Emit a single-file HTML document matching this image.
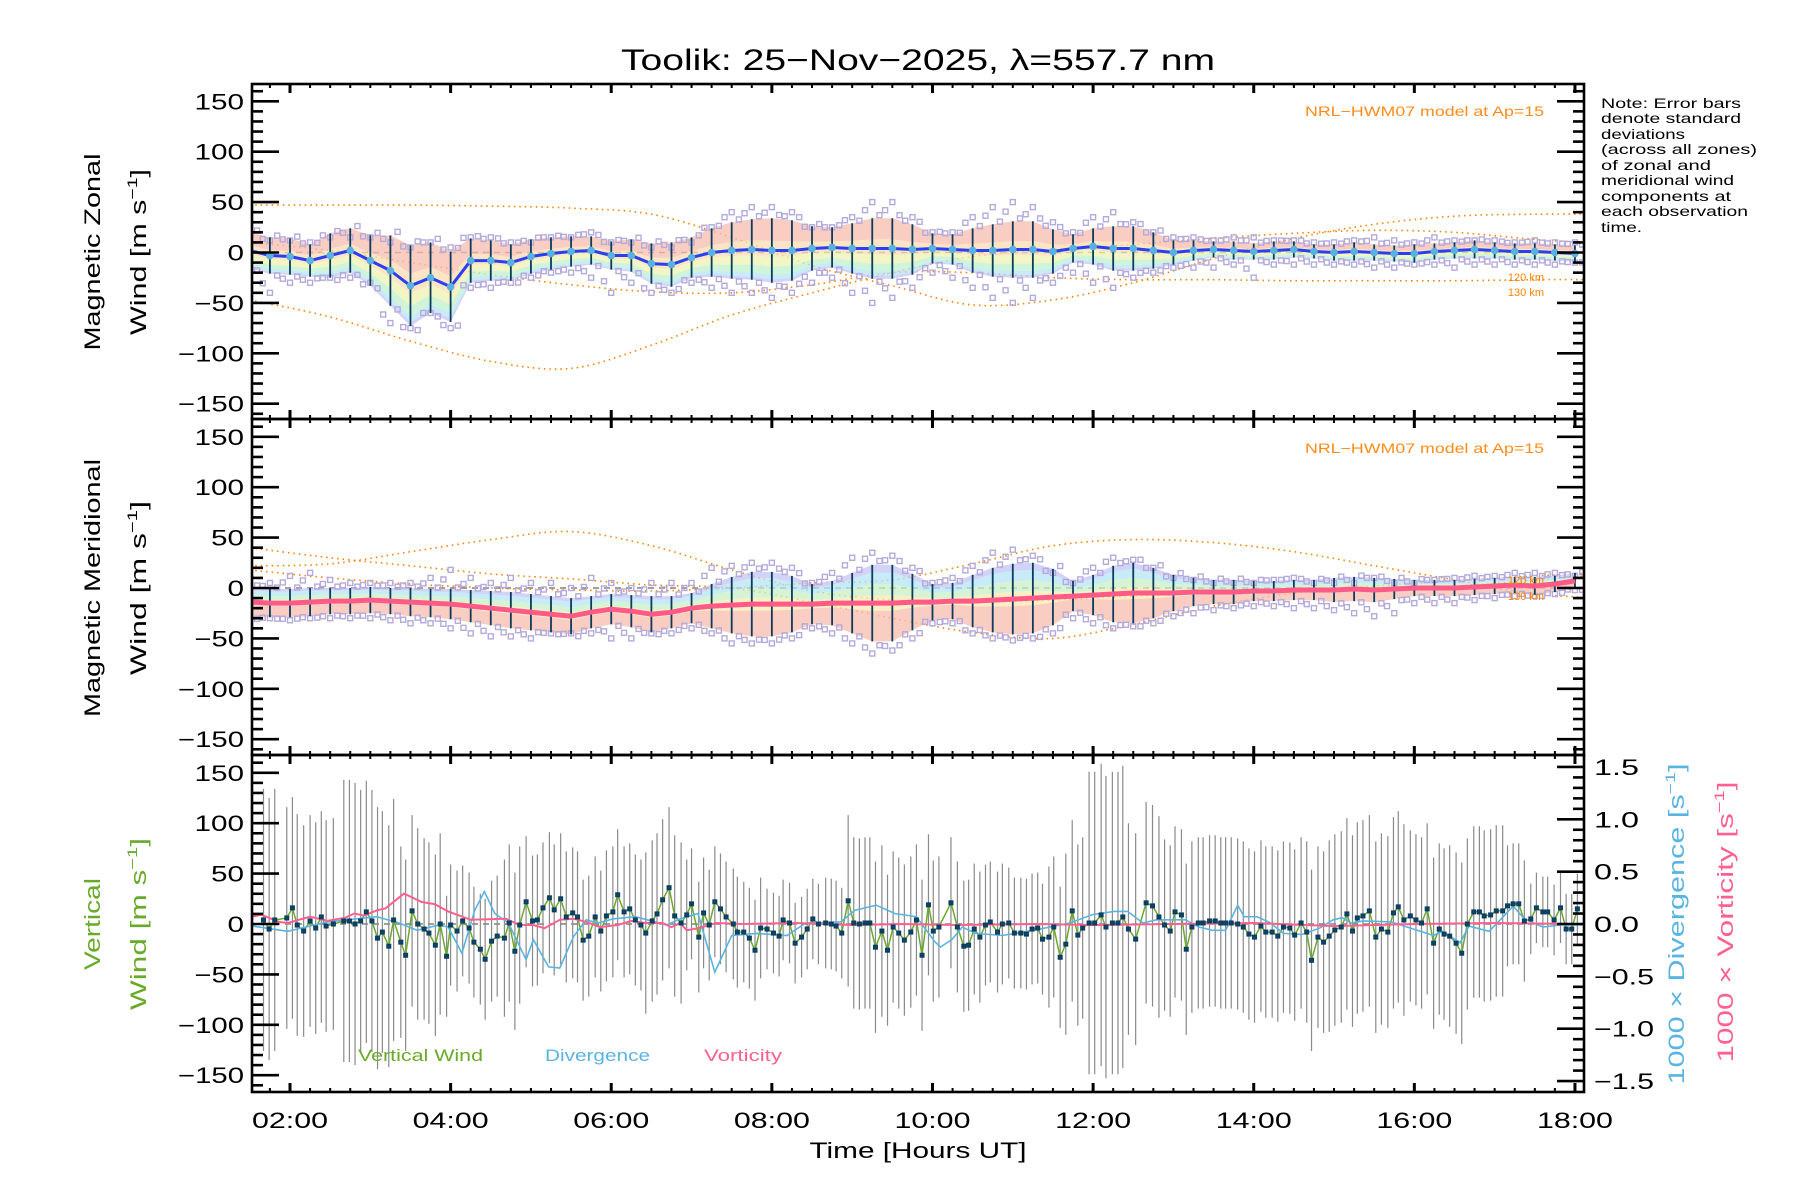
<!DOCTYPE html>
<html><head><meta charset="utf-8"><title>Toolik 557.7 nm winds</title>
<style>
html,body{margin:0;padding:0;background:#fff;}
svg{display:block;font-family:"Liberation Sans",sans-serif;}
</style></head>
<body>
<svg id="chart" width="1800" height="1200" viewBox="0 0 1800 1200" xmlns="http://www.w3.org/2000/svg">
<defs>
<clipPath id="clip1"><rect x="252" y="84" width="1332" height="335"/></clipPath>
<clipPath id="clip2"><rect x="252" y="419" width="1332" height="336"/></clipPath>
<clipPath id="clip3"><rect x="252" y="755" width="1332" height="337"/></clipPath>
</defs>
<rect x="0" y="0" width="1800" height="1200" fill="#fff"/>
<text x="918" y="70" font-size="30" text-anchor="middle" textLength="594" lengthAdjust="spacingAndGlyphs">Toolik: 25−Nov−2025, λ=557.7 nm</text>
<g id="p1" clip-path="url(#clip1)"></g>
<g id="p2" clip-path="url(#clip2)"></g>
<g id="p3" clip-path="url(#clip3)"></g>
<g id="axes"></g>
<g id="labels">
<text x="1544" y="116" font-size="14" fill="#ff8c1a" text-anchor="end" textLength="239" lengthAdjust="spacingAndGlyphs">NRL−HWM07 model at Ap=15</text>
<text x="1544" y="453" font-size="14" fill="#ff8c1a" text-anchor="end" textLength="239" lengthAdjust="spacingAndGlyphs">NRL−HWM07 model at Ap=15</text>
<text x="1544" y="281" font-size="11" fill="#ff8000" text-anchor="end">120 km</text>
<text x="1544" y="296" font-size="11" fill="#ff8000" text-anchor="end">130 km</text>
<text x="1544" y="584" font-size="11" fill="#ff8000" text-anchor="end">120 km</text>
<text x="1544" y="600" font-size="11" fill="#ff8000" text-anchor="end">130 km</text>
<g font-size="14">
<text x="1601" y="108" textLength="140" lengthAdjust="spacingAndGlyphs">Note: Error bars</text>
<text x="1601" y="123" textLength="140" lengthAdjust="spacingAndGlyphs">denote standard</text>
<text x="1601" y="139" textLength="84" lengthAdjust="spacingAndGlyphs">deviations</text>
<text x="1601" y="154" textLength="156" lengthAdjust="spacingAndGlyphs">(across all zones)</text>
<text x="1601" y="170" textLength="110" lengthAdjust="spacingAndGlyphs">of zonal and</text>
<text x="1601" y="185" textLength="133" lengthAdjust="spacingAndGlyphs">meridional wind</text>
<text x="1601" y="201" textLength="130" lengthAdjust="spacingAndGlyphs">components at</text>
<text x="1601" y="216" textLength="147" lengthAdjust="spacingAndGlyphs">each observation</text>
<text x="1601" y="232" textLength="41" lengthAdjust="spacingAndGlyphs">time.</text>
</g>
<text transform="translate(100,252) rotate(-90)" font-size="22" text-anchor="middle" textLength="197" lengthAdjust="spacingAndGlyphs">Magnetic Zonal</text>
<text transform="translate(146,252) rotate(-90)" font-size="22" text-anchor="middle" textLength="166" lengthAdjust="spacingAndGlyphs">Wind [m s<tspan font-size="14" dy="-9">−1</tspan><tspan dy="9">]</tspan></text>
<text transform="translate(100,588) rotate(-90)" font-size="22" text-anchor="middle" textLength="258" lengthAdjust="spacingAndGlyphs">Magnetic Meridional</text>
<text transform="translate(146,588) rotate(-90)" font-size="22" text-anchor="middle" textLength="174" lengthAdjust="spacingAndGlyphs">Wind [m s<tspan font-size="14" dy="-9">−1</tspan><tspan dy="9">]</tspan></text>
<text transform="translate(100,924) rotate(-90)" font-size="22" fill="#6aaa2a" text-anchor="middle" textLength="92" lengthAdjust="spacingAndGlyphs">Vertical</text>
<text transform="translate(146,924) rotate(-90)" font-size="22" fill="#6aaa2a" text-anchor="middle" textLength="172" lengthAdjust="spacingAndGlyphs">Wind [m s<tspan font-size="14" dy="-9">−1</tspan><tspan dy="9">]</tspan></text>
<text transform="translate(1684,924) rotate(-90)" font-size="22" fill="#5ab4e2" text-anchor="middle" textLength="321" lengthAdjust="spacingAndGlyphs">1000 × Divergence [s<tspan font-size="14" dy="-9">−1</tspan><tspan dy="9">]</tspan></text>
<text transform="translate(1733,922) rotate(-90)" font-size="22" fill="#ff6090" text-anchor="middle" textLength="281" lengthAdjust="spacingAndGlyphs">1000 × Vorticity [s<tspan font-size="14" dy="-9">−1</tspan><tspan dy="9">]</tspan></text>
<text x="918" y="1158" font-size="22" text-anchor="middle" textLength="217" lengthAdjust="spacingAndGlyphs">Time [Hours UT]</text>
<text x="358" y="1061" font-size="17" fill="#6aaa2a" textLength="125" lengthAdjust="spacingAndGlyphs">Vertical Wind</text>
<text x="545" y="1061" font-size="17" fill="#5ab4e2" textLength="105" lengthAdjust="spacingAndGlyphs">Divergence</text>
<text x="704" y="1061" font-size="17" fill="#ff6090" textLength="78" lengthAdjust="spacingAndGlyphs">Vorticity</text>
</g>
</svg>
<script>
var gridStart = 1.5;
var gridStep = 0.25;
var zonMean = [2,-3, -4,-8,-3,2, -8,-18,-33,-25, -34,-8,-8,-10, -4,-1,1,2, -3,-3,-11,-12, -5,0,2,3, 2,2,4,5, 4,4,4,3, 4,3,2,2, 3,3,1,4, 6,4,4,2, 0,2,3,2, 1,2,3,1, 0,1,0,-1, -1,1,2,3, 2,1,1,0, -1];
var zonStd = [18,18, 18,16,22,22, 25,35,40,35, 35,22,20,18, 17,16,15,14, 14,16,20,22, 20,24,28,30, 32,30,22,20, 25,30,30,25, 15,15,22,26, 28,28,22,14, 18,22,22,18, 12,10,8,9, 8,9,8,7, 8,9,8,8, 9,8,8,9, 8,8,8,8, 8];
var zonHi = [15,12, 12,10,15,15, 15,10,5,10, 5,15,15,10, 10,15,15,20, 10,10,5,5, 10,25,40,45, 45,40,25,25, 35,50,50,35, 20,20,35,45, 50,45,30,20, 35,40,30,20, 15,15,12,15, 15,12,12,10, 10,12,15,12, 10,15,12,12, 12,10,12,10, 10];
var zonLo = [-35,-40, -30,-30,-25,-25, -30,-70,-75,-60, -75,-35,-35,-30, -25,-20,-20,-25, -40,-30,-40,-40, -30,-35,-40,-40, -45,-40,-30,-25, -40,-50,-45,-35, -20,-25,-35,-45, -50,-45,-30,-20, -30,-35,-25,-20, -15,-15,-15,-12, -25,-12,-12,-12, -12,-12,-15,-15, -12,-12,-15,-12, -12,-12,-12,-12, -10];
var merMean = [-14,-15, -15,-14,-13,-13, -12,-13,-14,-15, -16,-18,-20,-22, -24,-26,-28,-24, -21,-23,-26,-24, -20,-18,-17,-16, -16,-16,-16,-15, -15,-15,-15,-14, -14,-13,-13,-12, -11,-10,-9,-8, -7,-6,-5,-5, -5,-4,-4,-4, -3,-3,-2,-2, -2,-1,-2,-1, 0,0,0,1, 2,3,2,4, 7];
var merStd = [15,14, 14,14,13,13, 13,13,14,14, 15,16,17,18, 18,18,18,16, 15,16,18,16, 15,22,28,32, 32,28,20,22, 30,38,38,28, 18,18,26,32, 35,35,28,15, 20,28,30,25, 18,14,12,12, 10,10,10,10, 12,12,12,10, 8,8,8,8, 8,8,9,8, 8];
var merHi = [10,5, 12,15,8,5, 5,5,5,10, 18,10,5,10, 5,5,0,10, 5,0,5,5, 5,20,22,25, 25,20,5,15, 30,35,32,20, 5,10,22,35, 38,32,15,5, 20,30,28,20, 10,8,5,5, 5,8,10,5, 5,5,10,5, 5,8,10,12, 12,15,15,15, 12];
var merLo = [-35,-30, -32,-30,-30,-30, -30,-32,-35,-35, -40,-45,-48,-48, -50,-45,-45,-45, -50,-50,-45,-45, -40,-45,-55,-55, -55,-50,-40,-45, -55,-65,-62,-50, -35,-35,-45,-50, -52,-50,-45,-30, -35,-40,-38,-35, -28,-25,-22,-20, -18,-18,-20,-20, -22,-25,-28,-25, -15,-15,-15,-12, -10,-8,-8,-6, -2];
var vwErr = [130,130, 110,105,105,140, 130,120,95,90, 60,55,60,78, 65,65,65,60, 65,65,80,80, 55,55,55,50, 40,40,40,45, 85,85,75,75, 70,65,65,60, 55,55,70,90, 150,150,105,100, 85,85,85,85, 85,85,85,90, 95,95,95,95, 85,85,90,85, 85,60,35,35, 35];

var modelTimes = [1.5,2.5,3.5,4.5,5.5,6.5,7.5,8.5,9.5,10.5,11.5,12.5,13.5,14.5,15.5,16.5,17.5,18.5];
var zonModelA = [47,47,47,46,44,38,15,-13,-33,-52,-47,-30,-6,14,28,36,38,38];
var zonModelB = [-47,-64,-88,-108,-115,-92,-62,-40,-20,-4,3,8,14,19,22,20,13,8];
var zonModelC = [10,2,-10,-22,-32,-39,-40,-32,-20,-20,-25,-27,-27,-28,-28,-28,-27,-27];
var merModelE = [40,30,22,14,9,3,0,-14,-30,-44,-50,-36,-18,-5,2,7,12,16];
var merModelF = [22,24,36,48,56,42,18,-3,-12,-14,-12,-8,-5,-4,-2,2,8,14];
var merModelG = [18,10,4,0,-2,-3,0,5,8,24,42,48,45,36,22,8,-6,-10];

var vwTimes = [1.67,1.74,1.81,1.96,2.03,2.09,2.17,2.25,2.32,2.39,2.45,2.54,2.67,2.74,2.81,2.88,2.95,3.02,3.09,3.15,3.23,3.29,3.38,3.44,3.52,3.59,3.67,3.73,3.81,3.87,3.95,4.00,4.08,4.15,4.23,4.29,4.37,4.43,4.51,4.58,4.67,4.73,4.80,4.86,4.94,5.02,5.08,5.15,5.23,5.29,5.37,5.44,5.52,5.58,5.65,5.72,5.80,5.87,5.94,6.02,6.08,6.16,6.23,6.30,6.37,6.43,6.51,6.57,6.64,6.72,6.79,6.87,6.94,7.00,7.09,7.15,7.22,7.29,7.36,7.43,7.52,7.57,7.65,7.72,7.79,7.86,7.94,8.02,8.09,8.14,8.22,8.29,8.37,8.44,8.51,8.58,8.67,8.74,8.80,8.87,8.95,9.02,9.09,9.16,9.22,9.29,9.37,9.44,9.51,9.58,9.65,9.73,9.80,9.87,9.95,10.01,10.08,10.23,10.31,10.39,10.45,10.52,10.59,10.66,10.72,10.81,10.87,10.95,11.02,11.10,11.17,11.24,11.31,11.37,11.45,11.51,11.59,11.66,11.74,11.81,11.87,11.95,12.02,12.10,12.16,12.24,12.31,12.37,12.44,12.53,12.66,12.74,12.82,12.89,12.96,13.02,13.10,13.16,13.23,13.31,13.37,13.45,13.52,13.59,13.65,13.72,13.80,13.87,13.94,14.01,14.09,14.15,14.23,14.30,14.37,14.45,14.51,14.59,14.66,14.72,14.80,14.87,14.94,15.01,15.09,15.16,15.23,15.29,15.36,15.44,15.52,15.59,15.67,15.74,15.80,15.87,15.95,16.02,16.09,16.16,16.24,16.31,16.37,16.44,16.52,16.59,16.66,16.74,16.81,16.87,16.95,17.02,17.10,17.16,17.23,17.30,17.37,17.45,17.52,17.60,17.66,17.74,17.82,17.89,17.96,18.03];
var vwValues = [4,-5,4,6,16,-1,-7,3,-4,7,-2,0,3,3,0,3,12,3,-14,-8,-22,4,-18,-31,13,0,-5,-9,-21,0,-32,-1,-7,3,-4,-18,-25,-35,-17,-12,-14,1,-27,-1,22,3,4,16,26,14,25,7,11,7,-16,-12,7,-7,8,12,29,12,15,4,-1,-9,3,10,24,36,8,1,9,20,-13,11,-1,22,15,7,0,-8,-8,-14,-26,-4,-5,-9,-12,4,1,-19,-13,-5,5,0,1,0,-2,-9,23,1,0,1,1,-23,-7,-26,-3,-9,-16,-8,4,-31,19,-7,-3,21,-3,-22,-21,-5,-13,-1,2,-8,0,1,-9,-9,-10,-5,-4,-15,-13,-3,-33,-20,13,-11,-4,1,1,9,-3,1,1,7,-5,-15,21,18,7,-1,-7,12,9,-25,-3,1,1,3,3,1,1,1,0,-3,-10,-13,-2,-8,-8,-12,-3,-4,-11,1,-8,-36,-13,-18,-12,-6,-3,10,-7,6,8,13,-13,-5,-8,11,17,4,8,4,1,15,-19,-5,-10,-12,-19,-29,0,12,12,8,9,13,13,18,20,20,3,5,16,12,12,4,16,-5,-5,15];

var divTimes = [1.53,1.97,2.47,3.08,3.36,3.58,3.86,3.97,4.14,4.30,4.42,4.55,4.72,4.94,5.03,5.22,5.36,5.53,5.69,5.83,6.03,6.30,6.69,6.86,7.08,7.29,7.50,7.81,8.19,8.42,8.86,9.03,9.30,9.53,9.80,10.03,10.10,10.24,10.37,10.54,10.87,11.26,11.71,11.99,12.26,12.43,12.62,12.79,13.15,13.32,13.49,13.65,13.80,13.88,14.04,14.21,14.37,14.60,14.82,14.99,15.10,15.21,15.37,15.71,16.24,16.35,16.57,16.68,16.93,17.07,17.23,17.37,17.60,17.82,18.10];
var divValues = [-0.02,-0.07,0.02,0.07,0.01,-0.06,-0.01,-0.03,-0.28,0.13,0.31,0.10,0.01,-0.34,-0.15,-0.41,-0.42,-0.12,0.04,0.01,0.05,0.07,-0.01,0.05,0.10,-0.46,-0.11,-0.09,-0.11,0.01,0.02,0.13,0.18,0.10,0.07,-0.17,-0.22,-0.15,-0.03,-0.09,-0.11,-0.06,0.01,0.09,0.12,0.12,0.01,0.04,0.04,-0.03,-0.06,-0.06,0.18,0.07,0.07,0.01,-0.09,-0.10,-0.04,0.04,0.06,0.01,0.03,0.02,-0.11,-0.07,-0.18,-0.02,-0.07,0.04,0.17,0.05,-0.03,-0.01,-0.01];

var vortTimes = [1.53,1.64,1.86,1.97,2.25,2.47,2.69,2.80,2.92,3.08,3.19,3.42,3.64,3.80,3.97,4.25,4.69,4.86,5.03,5.17,5.36,5.53,5.69,5.86,6.08,6.25,6.42,6.64,6.75,6.86,6.94,7.08,7.31,7.64,8.3,9.0,9.6,10.3,11.3,12.0,13.0,14.0,15.0,16.0,17.0,18.1];
var vortValues = [0.07,0.09,0.02,0.01,0.07,0.03,0.06,0.10,0.08,0.13,0.15,0.29,0.21,0.19,0.12,0.04,0.05,-0.01,-0.01,-0.04,0.04,0.05,0.02,-0.03,-0.01,0.03,0.01,0.01,-0.03,0.01,-0.06,-0.04,0.01,0.00,0.01,-0.01,0.00,-0.01,0.00,-0.01,0.00,0.01,-0.02,0.00,0.01,0.00];

var xTickHours = [2,4,6,8,10,12,14,16,18];
var xTickLabels = ["02:00","04:00","06:00","08:00","10:00","12:00","14:00","16:00","18:00"];
var yTickValues = [150,100,50,0,-50,-100,-150];
var yTickLabels = ["150","100","50","0","−50","−100","−150"];
var rTickValues = [1.5,1.0,0.5,0.0,-0.5,-1.0,-1.5];
var rTickLabels = ["1.5","1.0","0.5","0.0","−0.5","−1.0","−1.5"];

var NS = "http://www.w3.org/2000/svg";
var X0 = 252, X1 = 1584;
var panelTop = [84, 419, 755];
var panelBot = [419, 755, 1092];
var panelZero = [252.5, 588, 924];
function xs(t){ return 290 + (t - 2) * 80.31; }
function ys(p, v){ return panelZero[p] - v * 1.008; }
function yr(v){ return 924 - v * 104.7; }
function gridT(i){ return gridStart + i * gridStep; }
function mk(tag, attrs, parent){
  var e = document.createElementNS(NS, tag);
  for (var k in attrs) e.setAttribute(k, attrs[k]);
  parent.appendChild(e);
  return e;
}
function smoothPath(pts){
  var d = 'M' + pts[0][0].toFixed(1) + ',' + pts[0][1].toFixed(1);
  for (var i = 0; i < pts.length - 1; i++){
    var p0 = pts[Math.max(0, i - 1)], p1 = pts[i], p2 = pts[i + 1], p3 = pts[Math.min(pts.length - 1, i + 2)];
    var c1x = p1[0] + (p2[0] - p0[0]) / 6, c1y = p1[1] + (p2[1] - p0[1]) / 6;
    var c2x = p2[0] - (p3[0] - p1[0]) / 6, c2y = p2[1] - (p3[1] - p1[1]) / 6;
    d += ' C' + c1x.toFixed(1) + ',' + c1y.toFixed(1) + ' ' + c2x.toFixed(1) + ',' + c2y.toFixed(1) + ' ' + p2[0].toFixed(1) + ',' + p2[1].toFixed(1);
  }
  return d;
}
var p1 = document.getElementById('p1'), p2 = document.getElementById('p2'), p3 = document.getElementById('p3');
var axes = document.getElementById('axes');

function drawWindPanel(p, g, mean, std, hi, lo, bands, lineColor, markColor, models, nm){
  var zl = mk('line', {x1:X0, x2:X1, y1:panelZero[p], y2:panelZero[p], stroke:'#808080', 'stroke-width':1.5, 'stroke-dasharray':'6 5'}, g);
  
  
  models.forEach(function(m, mi){
    var pts = modelTimes.map(function(t, i){ return [xs(t), ys(p, m[i])]; });
    var pl = mk('path', {d:smoothPath(pts), fill:'none', stroke:'#ff8000', 'stroke-width':1.6, 'stroke-dasharray':'1.5 4'}, g);
    
    
  });
  bands.forEach(function(b, bi){
    var up = [], dn = [];
    for (var i = 0; i < mean.length; i++){
      up.push(xs(gridT(i)).toFixed(1) + ',' + ys(p, mean[i] + b[0] * std[i]).toFixed(1));
      dn.unshift(xs(gridT(i)).toFixed(1) + ',' + ys(p, mean[i] + b[1] * std[i]).toFixed(1));
    }
    var poly = mk('polygon', {points:up.concat(dn).join(' '), fill:b[2], 'fill-opacity':0.75, stroke:'none'}, g);
    
    
  });
  for (var i = 0; i < mean.length; i++){
    var t = gridT(i);
    var vals = [[0, hi[i]], [0, lo[i]], [0.09, mean[i] + 1.1 * std[i]], [0.09, mean[i] - 1.1 * std[i]], [-0.09, (hi[i] + mean[i] + std[i]) / 2], [-0.09, (lo[i] + mean[i] - std[i]) / 2]];
    vals.forEach(function(pv){
      var r = mk('rect', {x:xs(t + pv[0]) - 2.5, y:ys(p, pv[1]) - 2.5, width:5, height:5, fill:'none', stroke:'#b4aadc', 'stroke-width':1.4}, g);
      
      
    });
  }
  for (var i = 0; i < mean.length; i++){
    var bx = xs(gridT(i));
    var l = mk('line', {x1:bx, x2:bx, y1:ys(p, mean[i] - std[i]), y2:ys(p, mean[i] + std[i]), stroke:'#0b3b5e', 'stroke-width':1.8}, g);
    
    
  }
  var mp = mean.map(function(v, i){ return xs(gridT(i)).toFixed(1) + ',' + ys(p, v).toFixed(1); }).join(' ');
  var ml = mk('polyline', {points:mp, fill:'none', stroke:lineColor, 'stroke-width':(markColor ? 3 : 5), 'stroke-linejoin':'round'}, g);
  
  
  if (markColor){
    for (var i = 0; i < mean.length; i++){
      var c = mk('circle', {cx:xs(gridT(i)), cy:ys(p, mean[i]), r:3.8, fill:markColor}, g);
      
      
    }
  }
}
var zonBands = [[1,0.3,'#f7bcae'],[0.3,-0.2,'#f9dcb0'],[-0.2,-0.5,'#eef2b0'],[-0.5,-0.75,'#bff0cc'],[-0.75,-0.9,'#b4e4f4'],[-0.9,-1,'#c4c4f4']];
var merBands = [[1,0.8,'#c4c4f4'],[0.8,0.5,'#b4e4f4'],[0.5,0.2,'#c8f0c4'],[0.2,-0.2,'#f8eab0'],[-0.2,-1,'#f7bcae']];
drawWindPanel(0, p1, zonMean, zonStd, zonHi, zonLo, zonBands, '#2a40f0', '#5ab0e0', [zonModelA, zonModelB, zonModelC], 'zonal');
drawWindPanel(1, p2, merMean, merStd, merHi, merLo, merBands, '#ff5a88', null, [merModelE, merModelF, merModelG], 'meridional');

var z3 = mk('line', {x1:X0, x2:X1, y1:924, y2:924, stroke:'#808080', 'stroke-width':1.5, 'stroke-dasharray':'6 5'}, p3);


for (var i = 0; i < vwTimes.length; i++){
  var gi = Math.max(0, Math.min(vwErr.length - 1, Math.round((vwTimes[i] - gridStart) / gridStep)));
  var e = vwErr[gi];
  var bx = xs(vwTimes[i]);
  var bl = mk('line', {x1:bx, x2:bx, y1:ys(2, vwValues[i] - e), y2:ys(2, vwValues[i] + e), stroke:'#8a8a8a', 'stroke-width':1.2}, p3);
  
  
}
var vp = vwTimes.map(function(t, i){ return xs(t).toFixed(1) + ',' + ys(2, vwValues[i]).toFixed(1); }).join(' ');
var vl = mk('polyline', {points:vp, fill:'none', stroke:'#6aaa2a', 'stroke-width':1.5}, p3);


var dp = divTimes.map(function(t, i){ return xs(t).toFixed(1) + ',' + yr(divValues[i]).toFixed(1); }).join(' ');
var dl = mk('polyline', {points:dp, fill:'none', stroke:'#5ab4e2', 'stroke-width':1.6}, p3);


var op = vortTimes.map(function(t, i){ return xs(t).toFixed(1) + ',' + yr(vortValues[i]).toFixed(1); }).join(' ');
var ol = mk('polyline', {points:op, fill:'none', stroke:'#ff6090', 'stroke-width':2}, p3);


for (var i = 0; i < vwTimes.length; i++){
  var sq = mk('rect', {x:xs(vwTimes[i]) - 2, y:ys(2, vwValues[i]) - 2, width:4, height:4, fill:'#0b4466', stroke:'#0b3b5e', 'stroke-width':1}, p3);
  
  
}

for (var p = 0; p < 3; p++){
  var fr = mk('rect', {x:X0, y:panelTop[p], width:X1 - X0, height:panelBot[p] - panelTop[p], fill:'none', stroke:'#000', 'stroke-width':2.6}, axes);
  
  
  for (var q = 7; q <= 72; q++){
    var t = q * 0.25;
    var major = (q % 8 === 0);
    var len = major ? 9 : 4;
    var x = xs(t);
    if (x > X1 || x < X0) continue;
    var tk1 = mk('line', {x1:x, x2:x, y1:panelTop[p], y2:panelTop[p] + len, stroke:'#000', 'stroke-width':(major ? 3 : 2)}, axes);
    
    
    var tk2 = mk('line', {x1:x, x2:x, y1:panelBot[p], y2:panelBot[p] - len, stroke:'#000', 'stroke-width':(major ? 3 : 2)}, axes);
    
    
  }
  for (var v = -160; v <= 160; v += 10){
    var y = ys(p, v);
    if (y < panelTop[p] + 1 || y > panelBot[p] - 1) continue;
    var major = (v % 50 === 0);
    var len = major ? 27 : 11;
    var lt = mk('line', {x1:X0, x2:X0 + len, y1:y, y2:y, stroke:'#000', 'stroke-width':2.6}, axes);
    
    
    if (p < 2){
      var rt = mk('line', {x1:X1, x2:X1 - len, y1:y, y2:y, stroke:'#000', 'stroke-width':2.6}, axes);
      
      
    }
  }
  yTickValues.forEach(function(v, i){
    var s = yTickLabels[i];
    var tx = mk('text', {x:244, y:ys(p, v) + 8, 'font-size':22, 'text-anchor':'end', textLength:(s.length * 16.5), lengthAdjust:'spacingAndGlyphs'}, axes);
    tx.textContent = s;
    
    
  });
}
for (var k = -15; k <= 15; k++){
  var v = k / 10;
  var y = yr(v);
  var major = (k % 5 === 0);
  var len = major ? 27 : 11;
  var rt3 = mk('line', {x1:X1, x2:X1 - len, y1:y, y2:y, stroke:'#000', 'stroke-width':2.6}, axes);
  
  
}
rTickValues.forEach(function(v, i){
  var s = rTickLabels[i];
  var tx = mk('text', {x:1594, y:yr(v) + 8, 'font-size':22, textLength:(s.length * 15), lengthAdjust:'spacingAndGlyphs'}, axes);
  tx.textContent = s;
  
  
});
xTickHours.forEach(function(h, i){
  var tx = mk('text', {x:xs(h), y:1128, 'font-size':22, 'text-anchor':'middle', textLength:76, lengthAdjust:'spacingAndGlyphs'}, axes);
  tx.textContent = xTickLabels[i];
  
  
});
</script>
</body></html>
